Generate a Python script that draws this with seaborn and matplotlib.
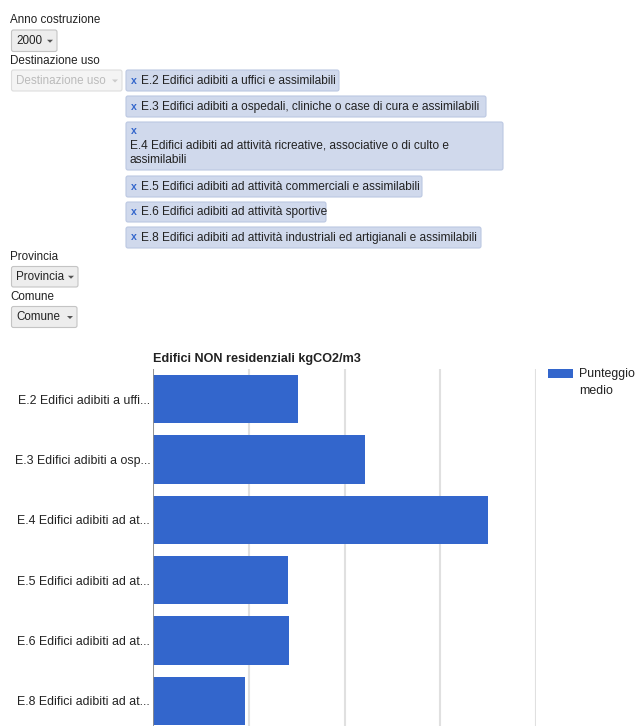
import matplotlib
matplotlib.use("Agg")
import matplotlib.pyplot as plt
import matplotlib.transforms as mtransforms
from matplotlib.patches import Rectangle, FancyBboxPatch, Polygon
import seaborn as sns
import pandas as pd

# ---------------- data ----------------
categories = [
    "E.2 Edifici adibiti a uffi...",
    "E.3 Edifici adibiti a osp...",
    "E.4 Edifici adibiti ad at...",
    "E.5 Edifici adibiti ad at...",
    "E.6 Edifici adibiti ad at...",
    "E.8 Edifici adibiti ad at...",
]
values = [15.1, 22.1, 35.0, 14.1, 14.2, 9.6]
series_name = "Punteggio medio"
chart_title = "Edifici NON residenziali kgCO2/m3"
x_ticks = [0, 10, 20, 30, 40]

year_label = "Anno costruzione"
year_value = "2000"
use_label = "Destinazione uso"
selected_uses = [
    "E.2 Edifici adibiti a uffici e assimilabili",
    "E.3 Edifici adibiti a ospedali, cliniche o case di cura e assimilabili",
    "E.4 Edifici adibiti ad attività ricreative, associative o di culto e\nassimilabili",
    "E.5 Edifici adibiti ad attività commerciali e assimilabili",
    "E.6 Edifici adibiti ad attività sportive",
    "E.8 Edifici adibiti ad attività industriali ed artigianali e assimilabili",
]
prov_label = "Provincia"
com_label = "Comune"

df = pd.DataFrame({"categoria": categories, "valore": values})

# ---------------- figure ----------------
W, H = 636, 726
sns.set_style("white")
plt.rcParams["font.family"] = ["Liberation Sans", "DejaVu Sans"]
fig = plt.figure(figsize=(W / 100, H / 100), dpi=100)

# pixel transform (origin top-left)
T = mtransforms.Affine2D().scale(1, -1).translate(0, H)

def PT(px):
    return px * 72 / 100

TXT = "#222222"
fs_w = PT(11.6)
fs_chip = PT(11.85)
fs_c = PT(12.4)

# ---------------- chart ----------------
left, right, top, bottom = 153, 536, 369, 731
ax = fig.add_axes([left / W, 1 - bottom / H, (right - left) / W, (bottom - top) / H])
sns.barplot(data=df, x="valore", y="categoria", orient="h", color="#3366cc",
            width=0.8, saturation=1, ax=ax, edgecolor="none")
ax.set_xlim(x_ticks[0], x_ticks[-1])
ax.set_xticks(x_ticks)
ax.xaxis.grid(True, color="#e0e0e0", linewidth=1.5)
ax.set_axisbelow(True)
ax.axvline(0, color="#8c8c8c", linewidth=1.3, zorder=3)
for s in ax.spines.values():
    s.set_visible(False)
ax.set_xlabel("")
ax.set_ylabel("")
ax.tick_params(axis="x", labelbottom=False, length=0)
ax.tick_params(axis="y", length=0, pad=2, labelsize=fs_c, labelcolor=TXT)

fig.text(153, 359, chart_title, transform=T, ha="left", va="center",
         fontsize=PT(12.6), fontweight="bold", color=TXT)

# legend
fig.add_artist(Rectangle((548, 369), 25, 9, transform=T, facecolor="#3366cc",
                         edgecolor="none"))
fig.text(579, 374, "Punteggio", transform=T, ha="left", va="center",
         fontsize=fs_c, color=TXT)
fig.text(579, 391, "medio", transform=T, ha="left", va="center",
         fontsize=fs_c, color=TXT)

# ---------------- controls ----------------
def dropdown(x0, y0, x1, y1, text, disabled=False):
    fc = "#f4f4f4" if disabled else "#ededed"
    ec = "#dddddd" if disabled else "#c4c4c4"
    tc = "#bbbbbb" if disabled else TXT
    fig.add_artist(FancyBboxPatch((x0, y0), x1 - x0, y1 - y0,
                                  boxstyle="round,pad=0,rounding_size=2",
                                  transform=T, facecolor=fc, edgecolor=ec,
                                  linewidth=0.8))
    fig.text(x0 + 4.5, (y0 + y1) / 2 + 0.5, text, transform=T, ha="left",
             va="center", fontsize=fs_w, color=tc)
    ax_ = x1 - 10
    ay = (y0 + y1) / 2 - 1
    fig.add_artist(Polygon([(ax_, ay), (ax_ + 6, ay), (ax_ + 3, ay + 3)],
                           closed=True, transform=T,
                           facecolor="#cccccc" if disabled else "#555555",
                           edgecolor="none"))

fig.text(10, 20, year_label, transform=T, ha="left", va="center",
         fontsize=fs_w, color=TXT)
dropdown(11.5, 30, 57, 51.5, year_value)
fig.text(10, 61, use_label, transform=T, ha="left", va="center",
         fontsize=fs_w, color=TXT)
dropdown(11.5, 70, 122, 91, use_label, disabled=True)

chips = [
    (70, 91, 339),
    (96, 117, 486),
    (122, 170, 503),
    (176, 197, 422),
    (202, 222, 326),
    (227, 248, 481),
]
for (y0, y1, x1), label in zip(chips, selected_uses):
    fig.add_artist(FancyBboxPatch((126, y0), x1 - 126, y1 - y0,
                                  boxstyle="round,pad=0,rounding_size=2",
                                  transform=T, facecolor="#d0d9ec",
                                  edgecolor="#bcc8e2", linewidth=0.8))
    if "\n" in label:
        fig.text(131, 131, "x", transform=T, ha="left", va="center",
                 fontsize=PT(10.5), fontweight="bold", color="#3366cc")
        l1, l2 = label.split("\n")
        fig.text(130, 146, l1, transform=T, ha="left", va="center",
                 fontsize=fs_chip, color=TXT)
        fig.text(130, 160, l2, transform=T, ha="left", va="center",
                 fontsize=fs_chip, color=TXT)
    else:
        yc = (y0 + y1) / 2
        fig.text(131, yc, "x", transform=T, ha="left", va="center",
                 fontsize=PT(10.5), fontweight="bold", color="#3366cc")
        fig.text(141, yc + 0.5, label, transform=T, ha="left", va="center",
                 fontsize=fs_chip, color=TXT)

fig.text(10, 257, prov_label, transform=T, ha="left", va="center",
         fontsize=fs_w, color=TXT)
dropdown(11.5, 266.5, 78, 287, prov_label)
fig.text(10, 297, com_label, transform=T, ha="left", va="center",
         fontsize=fs_w, color=TXT)
dropdown(11.5, 306.5, 77, 327.5, com_label)

fig.savefig("out.png", dpi=100)
